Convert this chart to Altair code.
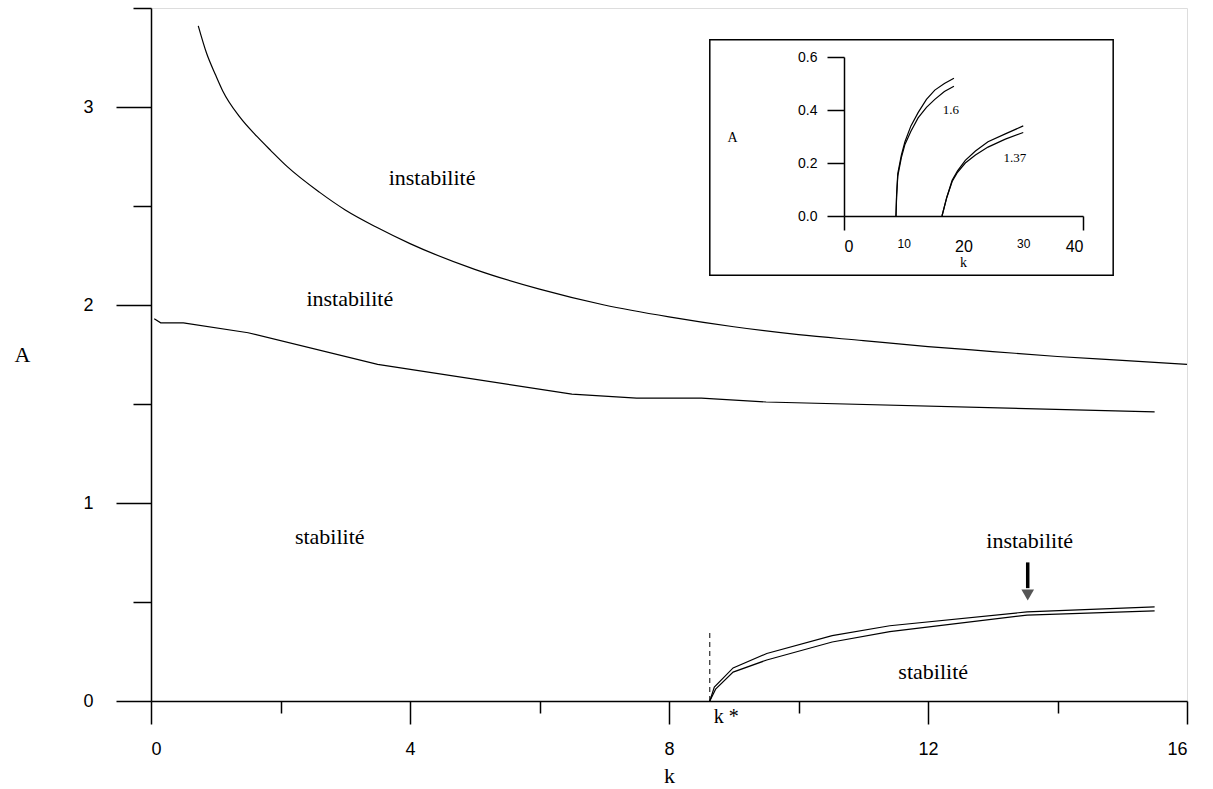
import altair as alt
import pandas as pd

# ---- main diagram: stability boundaries in the (k, A) plane ----
upper_k = [0.73, 0.86, 1.0, 1.11, 1.37, 1.64, 1.85, 2.1, 2.6, 3.0, 3.5, 4.0, 5.0, 6.0, 7.0, 8.0,
           9.0, 10.0, 11.0, 12.0, 13.0, 14.0, 15.0, 16.0]
upper_A = [3.41, 3.27, 3.16, 3.08, 2.95, 2.85, 2.78, 2.70, 2.57, 2.48, 2.39, 2.31, 2.18, 2.08, 2.00, 1.94,
           1.89, 1.85, 1.82, 1.79, 1.765, 1.74, 1.72, 1.70]

middle_k = [0.05, 0.15, 0.5, 1.5, 3.5, 6.5, 7.5, 8.5, 9.5, 15.5]
middle_A = [1.93, 1.91, 1.91, 1.86, 1.70, 1.55, 1.53, 1.53, 1.51, 1.46]

# pair of close curves emerging from k*
pair_hi_k = [8.63, 8.70, 8.99, 9.51, 10.52, 11.41, 13.53, 15.5]
pair_hi_A = [0.0, 0.07, 0.167, 0.24, 0.33, 0.38, 0.45, 0.475]
pair_lo_k = [8.63, 8.72, 8.99, 9.51, 10.52, 11.41, 13.53, 15.5]
pair_lo_A = [0.0, 0.06, 0.146, 0.207, 0.298, 0.35, 0.434, 0.455]

k_star = 8.63
k_star_dash_top = 0.35

region_text = ["instabilité", "instabilité", "stabilité", "instabilité", "stabilité"]
region_k = [4.34, 3.07, 2.76, 13.57, 12.08]
region_A = [2.64, 2.03, 0.83, 0.81, 0.146]

arrow_k = 13.54
arrow_A_top = 0.70
arrow_A_shaft = 0.57
arrow_A_head = 0.535

# frame of the inset, in main-plot coordinates
inset_box_k = [8.63, 14.86]
inset_box_A = [2.15, 3.34]

# ---- inset: the same branch for two values of the parameter ----
in16_hi_k = [8.7, 8.8, 9.0, 9.6, 10.2, 11.2, 12.4, 13.8, 15.2, 16.8, 18.4]
in16_hi_A = [0.0, 0.08, 0.16, 0.23, 0.28, 0.34, 0.39, 0.44, 0.475, 0.50, 0.52]
in16_lo_k = [8.7, 8.8, 9.0, 9.6, 10.2, 11.2, 12.4, 13.8, 15.2, 16.8, 18.4]
in16_lo_A = [0.0, 0.07, 0.15, 0.22, 0.27, 0.32, 0.37, 0.41, 0.44, 0.47, 0.49]

in137_hi_k = [16.4, 17.2, 18.1, 19.0, 20.3, 22.0, 24.1, 27.0, 30.0]
in137_hi_A = [0.0, 0.07, 0.135, 0.17, 0.21, 0.245, 0.28, 0.31, 0.34]
in137_lo_k = [16.4, 17.2, 18.1, 19.0, 20.3, 22.0, 24.1, 27.0, 30.0]
in137_lo_A = [0.0, 0.07, 0.13, 0.165, 0.20, 0.23, 0.26, 0.29, 0.315]

inset_label_text = ["1.6", "1.37"]
inset_label_k = [17.9, 28.6]
inset_label_A = [0.40, 0.22]

SERIF = "Liberation Serif"
SANS = "Liberation Sans"

W, H = 1036, 693


def curve(ks, As, name):
    return pd.DataFrame({"k": ks, "A": As, "curve": name})


broken_curves = pd.concat([
    curve(middle_k, middle_A, "middle"),
    curve(pair_hi_k, pair_hi_A, "pair_hi"),
    curve(pair_lo_k, pair_lo_A, "pair_lo"),
])

xs = alt.Scale(domain=[0, 16], nice=False, zero=False)
ys = alt.Scale(domain=[0, 3.5], nice=False, zero=False)

x_axis = alt.Axis(
    values=[0, 2, 4, 6, 8, 10, 12, 14, 16],
    labelExpr="datum.value % 4 === 0 ? '' + datum.value : ''",
    tickSize={"condition": {"test": "datum.value % 4 === 0", "value": 23}, "value": 12},
    tickColor="black", tickWidth=1.5, domainColor="black", domainWidth=1.5,
    labelFont=SANS, labelFontSize=18, labelColor="black", labelPadding=16,
    grid=False, title="k", titleFont=SERIF, titleFontSize=22, titleFontWeight="normal",
    titleColor="black", titleX=518, titleY=74, titleBaseline="middle",
)
y_axis = alt.Axis(
    values=[0, 0.5, 1, 1.5, 2, 2.5, 3, 3.5],
    labelExpr="datum.value % 1 === 0 ? '' + datum.value : ''",
    tickSize={"condition": {"test": "datum.value % 1 === 0", "value": 35}, "value": 18},
    tickColor="black", tickWidth=1.5, domainColor="black", domainWidth=1.5,
    labelFont=SANS, labelFontSize=18, labelColor="black", labelPadding=23,
    grid=False, title="A", titleFont=SERIF, titleFontSize=22, titleFontWeight="normal",
    titleColor="black", titleAngle=0, titleX=-129, titleY=346,
    titleAlign="center", titleBaseline="middle",
)

# smooth upper boundary
upper_line = alt.Chart(curve(upper_k, upper_A, "upper")).mark_line(
    color="black", strokeWidth=1.2, interpolate="monotone"
).encode(
    x=alt.X("k:Q", scale=xs, axis=x_axis),
    y=alt.Y("A:Q", scale=ys, axis=y_axis),
)

# piecewise boundaries
lines = alt.Chart(broken_curves).mark_line(color="black", strokeWidth=1.2).encode(
    x="k:Q", y="A:Q", detail="curve:N",
)

dash = alt.Chart(pd.DataFrame({"k": [k_star], "A0": [0.0], "A1": [k_star_dash_top]})).mark_rule(
    color="black", strokeWidth=1, strokeDash=[5, 4]
).encode(x="k:Q", y="A0:Q", y2="A1:Q")

kstar_txt = alt.Chart(pd.DataFrame({"k": [k_star], "A": [0.0], "t": ["k *"]})).mark_text(
    font=SERIF, fontSize=20, color="black", align="left", baseline="middle", dx=4, dy=16
).encode(x="k:Q", y="A:Q", text="t:N")

regions = alt.Chart(pd.DataFrame({"k": region_k, "A": region_A, "t": region_text})).mark_text(
    font=SERIF, fontSize=22, color="black", align="center", baseline="middle"
).encode(x="k:Q", y="A:Q", text="t:N")

arrow_shaft = alt.Chart(pd.DataFrame({"k": [arrow_k], "A0": [arrow_A_top], "A1": [arrow_A_shaft]})).mark_rule(
    color="black", strokeWidth=3.5
).encode(x="k:Q", y="A0:Q", y2="A1:Q")
arrow_head = alt.Chart(pd.DataFrame({"k": [arrow_k], "A": [arrow_A_head]})).mark_point(
    shape="triangle-down", filled=True, color="#555555", size=160, opacity=1
).encode(x="k:Q", y="A:Q")

inset_box = alt.Chart(pd.DataFrame({
    "k0": [inset_box_k[0]], "k1": [inset_box_k[1]], "A0": [inset_box_A[0]], "A1": [inset_box_A[1]]
})).mark_rect(fill="white", stroke="black", strokeWidth=1.5).encode(
    x="k0:Q", x2="k1:Q", y="A0:Q", y2="A1:Q"
)

main = alt.layer(upper_line, lines, dash, kstar_txt, regions, arrow_shaft, arrow_head, inset_box)

# ---- inset with its own scales, placed inside the framed box ----
inset_curves = pd.concat([
    curve(in16_hi_k, in16_hi_A, "a_hi"),
    curve(in16_lo_k, in16_lo_A, "a_lo"),
    curve(in137_hi_k, in137_hi_A, "b_hi"),
    curve(in137_lo_k, in137_lo_A, "b_lo"),
])

ixs = alt.Scale(domain=[0, 40], range=[693, 932], nice=False, zero=False)
iys = alt.Scale(domain=[0, 0.6], range=[208, 49], nice=False, zero=False)

ix_axis = alt.Axis(
    orient="bottom", offset=-485, zindex=2, values=[0, 10, 20, 30, 40],
    labelExpr="'' + datum.value",
    tickSize=14, tickOpacity={"condition": {"test": "datum.value % 40 === 0", "value": 1}, "value": 0},
    tickColor="black", tickWidth=1.5, domainColor="black", domainWidth=1.5,
    labelFont=SANS, labelColor="black", labelPadding=8,
    labelFontSize={"condition": {"test": "datum.value % 20 === 0", "value": 16}, "value": 12},
    grid=False, title="k", titleFont=SERIF, titleFontSize=14, titleFontWeight="normal",
    titleColor="black", titleX=812, titleY=46, titleBaseline="middle",
)
iy_axis = alt.Axis(
    orient="left", offset=-693, zindex=2, values=[0, 0.2, 0.4, 0.6], format=".1f",
    tickSize=17, tickColor="black", tickWidth=1.5, domainColor="black", domainWidth=1.5,
    labelFont=SANS, labelFontSize=14, labelColor="black", labelPadding=10,
    grid=False, title="A", titleFont=SERIF, titleFontSize=14, titleFontWeight="normal",
    titleColor="black", titleAngle=0, titleX=-112, titleY=129,
    titleAlign="center", titleBaseline="middle",
)

inset_lines = alt.Chart(inset_curves).mark_line(color="black", strokeWidth=1.2).encode(
    x=alt.X("k:Q", scale=ixs, axis=ix_axis),
    y=alt.Y("A:Q", scale=iys, axis=iy_axis),
    detail="curve:N",
)
inset_labels = alt.Chart(pd.DataFrame({
    "k": inset_label_k, "A": inset_label_A, "t": inset_label_text
})).mark_text(font=SERIF, fontSize=13, color="black", align="center", baseline="middle").encode(
    x="k:Q", y="A:Q", text="t:N"
)
inset = alt.layer(inset_lines, inset_labels)

chart = alt.layer(main, inset).resolve_scale(x="independent", y="independent").properties(
    width=W, height=H,
    autosize=alt.AutoSizeParams(type="none"),
    padding={"left": 151, "top": 8, "right": 26, "bottom": 88},
).configure_view(stroke="black", strokeWidth=1.5).configure(background="white")

chart.save("out.html", embed_options={"renderer": "svg", "actions": False})
